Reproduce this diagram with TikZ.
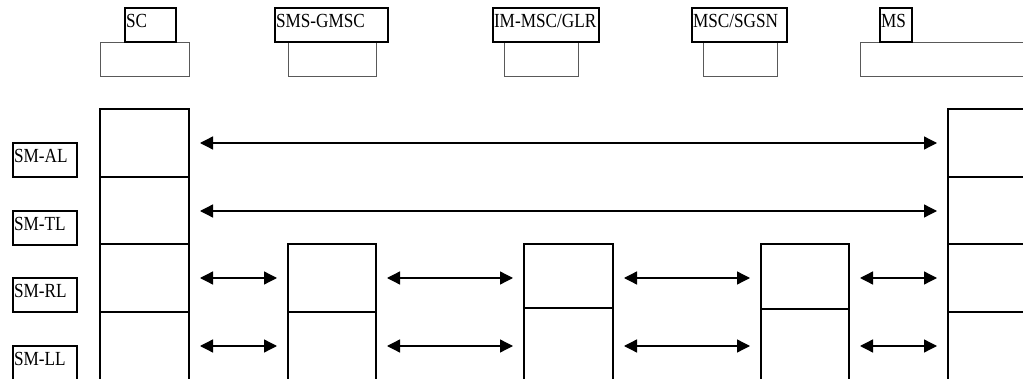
\documentclass[tikz,border=0pt]{standalone}
\usepackage{fontspec}
\setmainfont{Liberation Serif}[FakeStretch=0.86]
\usetikzlibrary{arrows.meta,positioning}

\begin{document}
\begin{tikzpicture}[x=1pt,y=-1pt,font=\fontsize{20}{22}\selectfont,
  tag/.style={draw,line width=1.2pt,anchor=north west,inner sep=1pt,outer sep=0pt,
    text width=#1,text height=19pt,text depth=13pt,align=left},
  sub/.style={draw=black!65,line width=0.9pt,anchor=north west,inner sep=0pt,outer sep=0pt,
    minimum height=34pt},
  cell/.style={draw,line width=1.2pt,anchor=north west,inner sep=0pt,outer sep=0pt},
  ar/.style={{Triangle[length=13pt,width=13pt]}-{Triangle[length=13pt,width=13pt]},
    line width=1.3pt,shorten <=11pt,shorten >=11pt}]
\clip (0,0) rectangle (1023,379);
% --- entities, top row ---
\node[sub,minimum width=89pt] (scSub) at (100,42) {};
\node[sub,minimum width=88pt] (gmscSub) at (288,42) {};
\node[sub,minimum width=74pt] (glrSub) at (504,42) {};
\node[sub,minimum width=74pt] (sgsnSub) at (703,42) {};
\node[sub,minimum width=200pt] (msSub) at (860,42) {};
\node[tag=49pt] (sc) at (125,8) {SC};
\node[tag=111pt] (gmsc) at (275,8) {SMS-GMSC};
\node[tag=104pt] (glr) at (493,8) {IM-MSC/GLR};
\node[tag=93pt] (sgsn) at (692,8) {MSC/SGSN};
\node[tag=30pt] (ms) at (880,8) {MS};
% --- layer names ---
\node[tag=62pt] (al) at (13,143) {SM-AL};
\node[tag=62pt] (tl) at (13,211) {SM-TL};
\node[tag=62pt] (rl) at (13,278) {SM-RL};
\node[tag=62pt] (ll) at (13,346) {SM-LL};
% --- protocol stacks ---
\node[cell,minimum width=89pt,minimum height=68pt] (scAL) at (100,109) {};
\node[cell,minimum width=89pt,minimum height=67pt,below=0pt of scAL] (scTL) {};
\node[cell,minimum width=89pt,minimum height=68pt,below=0pt of scTL] (scRL) {};
\node[cell,minimum width=89pt,minimum height=68pt,below=0pt of scRL] (scLL) {};
\node[cell,minimum width=88pt,minimum height=68pt] (gmscRL) at (288,244) {};
\node[cell,minimum width=88pt,minimum height=68pt,below=0pt of gmscRL] (gmscLL) {};
\node[cell,minimum width=89pt,minimum height=64pt] (glrRL) at (524,244) {};
\node[cell,minimum width=89pt,minimum height=76pt,below=0pt of glrRL] (glrLL) {};
\node[cell,minimum width=88pt,minimum height=65pt] (sgsnRL) at (761,244) {};
\node[cell,minimum width=88pt,minimum height=74pt,below=0pt of sgsnRL] (sgsnLL) {};
\node[cell,minimum width=100pt,minimum height=68pt] (msAL) at (948,109) {};
\node[cell,minimum width=100pt,minimum height=67pt,below=0pt of msAL] (msTL) {};
\node[cell,minimum width=100pt,minimum height=68pt,below=0pt of msTL] (msRL) {};
\node[cell,minimum width=100pt,minimum height=68pt,below=0pt of msRL] (msLL) {};
% --- peer links ---
\draw[ar] (scAL.east) -- (msAL.west);
\draw[ar] ([yshift=-0.5pt]scTL.east) -- ([yshift=-0.5pt]msTL.west);
\draw[ar] (scRL.east) -- (gmscRL.west);
\draw[ar] (gmscRL.east) -- (glrRL.west |- gmscRL.east);
\draw[ar] (glrRL.east |- gmscRL.east) -- (sgsnRL.west |- gmscRL.east);
\draw[ar] (sgsnRL.east |- msRL.west) -- (msRL.west);
\draw[ar] (scLL.east) -- (gmscLL.west);
\draw[ar] (gmscLL.east) -- (glrLL.west);
\draw[ar] (glrLL.east) -- (sgsnLL.west);
\draw[ar] (sgsnLL.east) -- (msLL.west);
\end{tikzpicture}
\end{document}
